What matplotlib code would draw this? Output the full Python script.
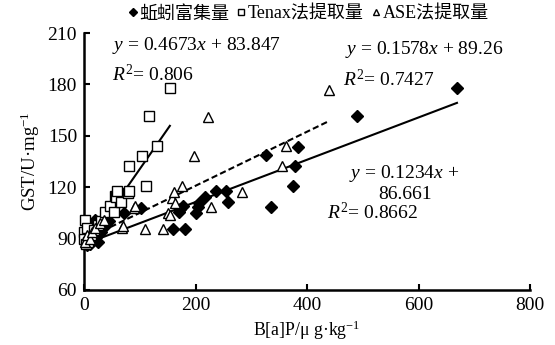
import matplotlib
matplotlib.use("Agg")
import matplotlib.pyplot as plt
import numpy as np

plt.rcParams['font.family'] = ['Liberation Serif', 'Noto Sans CJK SC']
plt.rcParams['mathtext.fontset'] = 'custom'
plt.rcParams['mathtext.rm'] = 'Liberation Serif'
plt.rcParams['mathtext.it'] = 'Liberation Serif:italic'

series_names = ["蚯蚓富集量", "Tenax法提取量", "ASE法提取量"]

worm_x = [2, 5, 8, 10, 12, 15, 18, 20, 22, 25, 28, 30, 35, 40, 45, 3, 6, 14, 71, 103,
          160, 171, 173, 178, 181, 201, 205, 207, 217, 236, 255, 258, 326, 335, 375, 378,
          384, 490, 669]
worm_y = [88, 90, 92, 87, 95, 89, 93, 101, 91, 88, 96, 94, 97, 99, 100, 95, 86, 98, 105, 107.7,
          95.6, 105.7, 107, 109, 95.6, 104.8, 108.6, 110.6, 114.5, 118, 118, 111.2, 138.8, 108.3,
          120.7, 132.4, 143.7, 161.6, 178]

tenax_x = [0, 1, 0, 3, 8, 12, 5, 18, 25, 30, 38, 46, 53, 56, 58, 60, 66, 79, 81, 80, 104,
           111, 117, 131, 154]
tenax_y = [94, 101, 90, 87, 88, 92, 96, 95, 98, 100, 105.7, 109.3, 105.7, 115, 114.5, 118,
           111.2, 116.8, 118, 132.6, 138.4, 120.7, 161.6, 144, 177.8]

ase_x = [2, 6, 10, 15, 20, 28, 35, 69, 70, 89, 91, 109, 142, 151, 154, 157, 162, 163, 176,
         198, 223, 228, 284, 356, 362, 440]
ase_y = [88, 92, 90, 94, 96, 99, 101, 96, 97.5, 107.7, 109.2, 95.4, 95.6, 104.8, 103.8, 113.5,
         117.2, 110.6, 120.5, 138.2, 161.2, 108.7, 117.4, 132.6, 144, 176.7]

# fitted lines (slope, intercept)
worm_fit = (0.1234, 86.661)
tenax_fit = (0.4673, 83.847)
ase_fit = (0.1578, 89.26)

x_ticks = [0, 200, 400, 600, 800]
y_ticks = [60, 90, 120, 150, 180, 210]

W, H = 555, 345
fig = plt.figure(figsize=(W / 100, H / 100), dpi=100)
ax = fig.add_axes([84 / W, 1 - 290 / H, (530 - 84) / W, (290 - 33) / H])

h1, = ax.plot(worm_x, worm_y, linestyle='none', marker='D', ms=6.3, mfc='black', mec='black',
              label=series_names[0], clip_on=False, zorder=3)
h2, = ax.plot(tenax_x, tenax_y, linestyle='none', marker='s', ms=7, mfc='white', mec='black',
              mew=1.0, label=series_names[1], clip_on=False, zorder=3)
h3, = ax.plot(ase_x, ase_y, linestyle='none', marker='^', ms=7.5, mfc='white', mec='black',
              mew=1.0, label=series_names[2], clip_on=False, zorder=3)

for xs, (k, b), ls in [(worm_x, worm_fit, '-'), (tenax_x, tenax_fit, '-'), (ase_x, ase_fit, '--')]:
    xx = np.array([min(xs), max(xs)])
    ax.plot(xx, k * xx + b, color='black', lw=1.5, linestyle=ls,
            dashes=(3, 1.5) if ls == '--' else (None, None), zorder=2)

ax.set_xlim(0, 800)
ax.set_ylim(60, 210)
ax.set_xticks(x_ticks)
ax.set_yticks(y_ticks)
ax.tick_params(direction='in', length=4, width=1.5, labelsize=14, pad=5)
for s in ['top', 'right']:
    ax.spines[s].set_visible(False)
for s in ['left', 'bottom']:
    ax.spines[s].set_linewidth(1.8)

ax.set_xlabel("B[a]P/μ g·kg$^{-1}$", fontsize=12.8, labelpad=3)
ax.set_ylabel("GST/U·mg$^{-1}$", fontsize=13.5, labelpad=4)

def ft(px, py, s, **kw):
    fig.text(px / W, 1 - py / H, s, va='center', ha='left', fontsize=14, **kw)

ft(112, 46, "$y$ = 0.4673$x$ + 83.847")
ft(112, 74, "$R^2$= 0.806")
ft(345, 49, "$y$ = 0.1578$x$ + 89.26")
ft(343, 79, "$R^2$= 0.7427")
ft(349, 174, "$y$ = 0.1234$x$ +")
ft(378, 195, "86.661")
ft(327, 212, "$R^2$= 0.8662")

leg = fig.legend(handles=[h1, h2, h3], loc='center left', bbox_to_anchor=(128 / W, 1 - 14 / H),
                 ncol=3, frameon=False, fontsize=13, handlelength=0.5, handletextpad=0.1,
                 columnspacing=0.45, markerscale=0.6, borderpad=0, borderaxespad=0)

fig.savefig("out.png", dpi=100)
